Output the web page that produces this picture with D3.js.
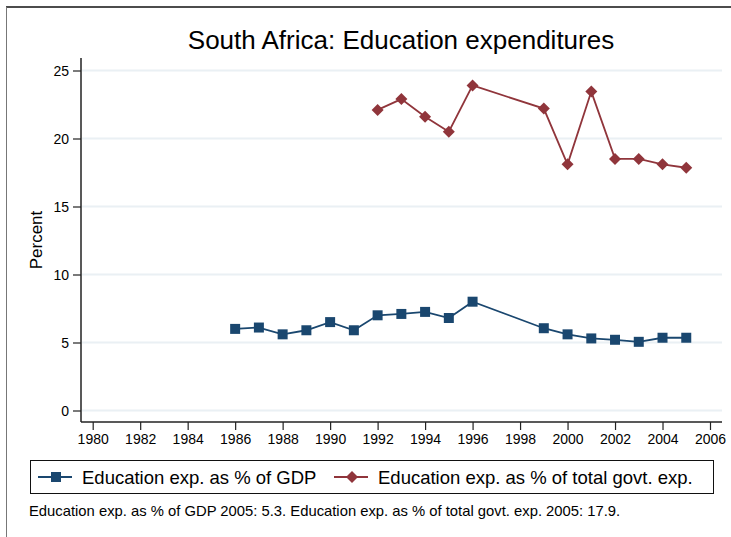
<!DOCTYPE html>
<html>
<head>
<meta charset="utf-8">
<script src="https://cdn.jsdelivr.net/npm/d3@7"></script>
<style>
  body { margin: 0; background: #fff; }
  text { font-family: "Liberation Sans", Arial, sans-serif; fill: #000; }
</style>
</head>
<body>
<div id="chart"></div>
<script>
	var w = 731;
	var h = 537;

	// data
	var gdpYears = [1986, 1987, 1988, 1989, 1990, 1991, 1992, 1993, 1994, 1995, 1996, 1999, 2000, 2001, 2002, 2003, 2004, 2005];
	var gdpValues = [6.0, 6.1, 5.6, 5.9, 6.5, 5.9, 7.0, 7.1, 7.25, 6.8, 8.0, 6.05, 5.6, 5.3, 5.2, 5.05, 5.35, 5.35];
	var govYears = [1992, 1993, 1994, 1995, 1996, 1999, 2000, 2001, 2002, 2003, 2004, 2005];
	var govValues = [22.1, 22.9, 21.6, 20.5, 23.9, 22.2, 18.1, 23.45, 18.5, 18.5, 18.1, 17.85];
	var xTicks = [1980, 1982, 1984, 1986, 1988, 1990, 1992, 1994, 1996, 1998, 2000, 2002, 2004, 2006];
	var yTicks = [0, 5, 10, 15, 20, 25];
	var seriesNames = ["Education exp. as % of GDP", "Education exp. as % of total govt. exp."];
	var noteText = "Education exp. as % of GDP 2005: 5.3. Education exp. as % of total govt. exp. 2005: 17.9.";

	var blue = "#1a476f";
	var red = "#90353b";

	var svg = d3.select("#chart")
		.append("svg")
		.attr("width", w)
		.attr("height", h);

	// outer frame (top and left edges visible)
	svg.append("line").attr("x1", 6).attr("y1", 7).attr("x2", w).attr("y2", 7)
		.style("stroke", "#111").style("stroke-width", 1.5);
	svg.append("line").attr("x1", 6.5).attr("y1", 7).attr("x2", 6.5).attr("y2", h)
		.style("stroke", "#777").style("stroke-width", 1);

	var x = d3.scaleLinear().domain([1980, 2006]).range([92.7, 710]);
	var y = d3.scaleLinear().domain([0, 25]).range([410.5, 70.5]);

	// title
	svg.append("text")
		.attr("x", 401).attr("y", 49)
		.attr("text-anchor", "middle")
		.style("font-size", "26px")
		.text("South Africa: Education expenditures");

	// gridlines
	svg.selectAll("line.grid")
		.data(yTicks)
		.enter()
		.append("line")
		.attr("class", "grid")
		.attr("x1", 82).attr("x2", 722)
		.attr("y1", function(d) { return y(d); })
		.attr("y2", function(d) { return y(d); })
		.style("stroke", "#eaf0f4")
		.style("stroke-width", 2);

	// axes
	var yAxis = svg.append("g")
		.attr("transform", "translate(81,0)")
		.call(d3.axisLeft(y).tickValues(yTicks).tickSize(8).tickPadding(4).tickFormat(d3.format("d")));
	yAxis.select(".domain").attr("d", "M0,58V422").style("stroke", "#222").style("stroke-width", 1.5);
	yAxis.selectAll(".tick line").style("stroke", "#222").style("stroke-width", 1.2);
	yAxis.selectAll(".tick text").style("font-size", "14px").style("font-family", "Liberation Sans, Arial, sans-serif").attr("dy", "0.36em");

	var xAxis = svg.append("g")
		.attr("transform", "translate(0,422)")
		.call(d3.axisBottom(x).tickValues(xTicks).tickSize(8).tickPadding(4).tickFormat(d3.format("d")));
	xAxis.select(".domain").attr("d", "M81,0H722").style("stroke", "#222").style("stroke-width", 1.5);
	xAxis.selectAll(".tick line").style("stroke", "#222").style("stroke-width", 1.2);
	xAxis.selectAll(".tick text").style("font-size", "14px").style("font-family", "Liberation Sans, Arial, sans-serif");

	// y title
	svg.append("text")
		.attr("transform", "translate(42,240) rotate(-90)")
		.attr("text-anchor", "middle")
		.style("font-size", "17px")
		.text("Percent");

	var line = d3.line()
		.x(function(d) { return x(d[0]); })
		.y(function(d) { return y(d[1]); });

	var gdpData = d3.zip(gdpYears, gdpValues);
	var govData = d3.zip(govYears, govValues);

	svg.append("path").datum(gdpData).attr("d", line)
		.style("fill", "none").style("stroke", blue).style("stroke-width", 1.8);
	svg.append("path").datum(govData).attr("d", line)
		.style("fill", "none").style("stroke", red).style("stroke-width", 1.8);

	var square = d3.symbol().type(d3.symbolSquare).size(100);
	var diamond = d3.symbol().type(d3.symbolSquare).size(72);

	svg.selectAll("path.sq")
		.data(gdpData)
		.enter()
		.append("path")
		.attr("class", "sq")
		.attr("d", square)
		.attr("transform", function(d) { return "translate(" + x(d[0]) + "," + y(d[1]) + ")"; })
		.style("fill", blue);

	svg.selectAll("path.dm")
		.data(govData)
		.enter()
		.append("path")
		.attr("class", "dm")
		.attr("d", diamond)
		.attr("transform", function(d) { return "translate(" + x(d[0]) + "," + y(d[1]) + ") rotate(45)"; })
		.style("fill", red);

	// legend
	svg.append("rect")
		.attr("x", 30.5).attr("y", 460.5).attr("width", 683).attr("height", 33)
		.style("fill", "#fff").style("stroke", "#111").style("stroke-width", 1);

	var legend = [
		{ name: seriesNames[0], color: blue, sym: square, rot: 0, x0: 38 },
		{ name: seriesNames[1], color: red, sym: diamond, rot: 45, x0: 334 }
	];
	legend.forEach(function(l) {
		svg.append("line")
			.attr("x1", l.x0).attr("x2", l.x0 + 34)
			.attr("y1", 477).attr("y2", 477)
			.style("stroke", l.color).style("stroke-width", 1.8);
		svg.append("path")
			.attr("d", l.sym)
			.attr("transform", "translate(" + (l.x0 + 18) + ",477) rotate(" + l.rot + ")")
			.style("fill", l.color);
		svg.append("text")
			.attr("x", l.x0 + 44).attr("y", 483.5)
			.style("font-size", "18.5px")
			.text(l.name);
	});

	// note
	svg.append("text")
		.attr("x", 29).attr("y", 516)
		.style("font-size", "14.8px")
		.text(noteText);
</script>
</body>
</html>
